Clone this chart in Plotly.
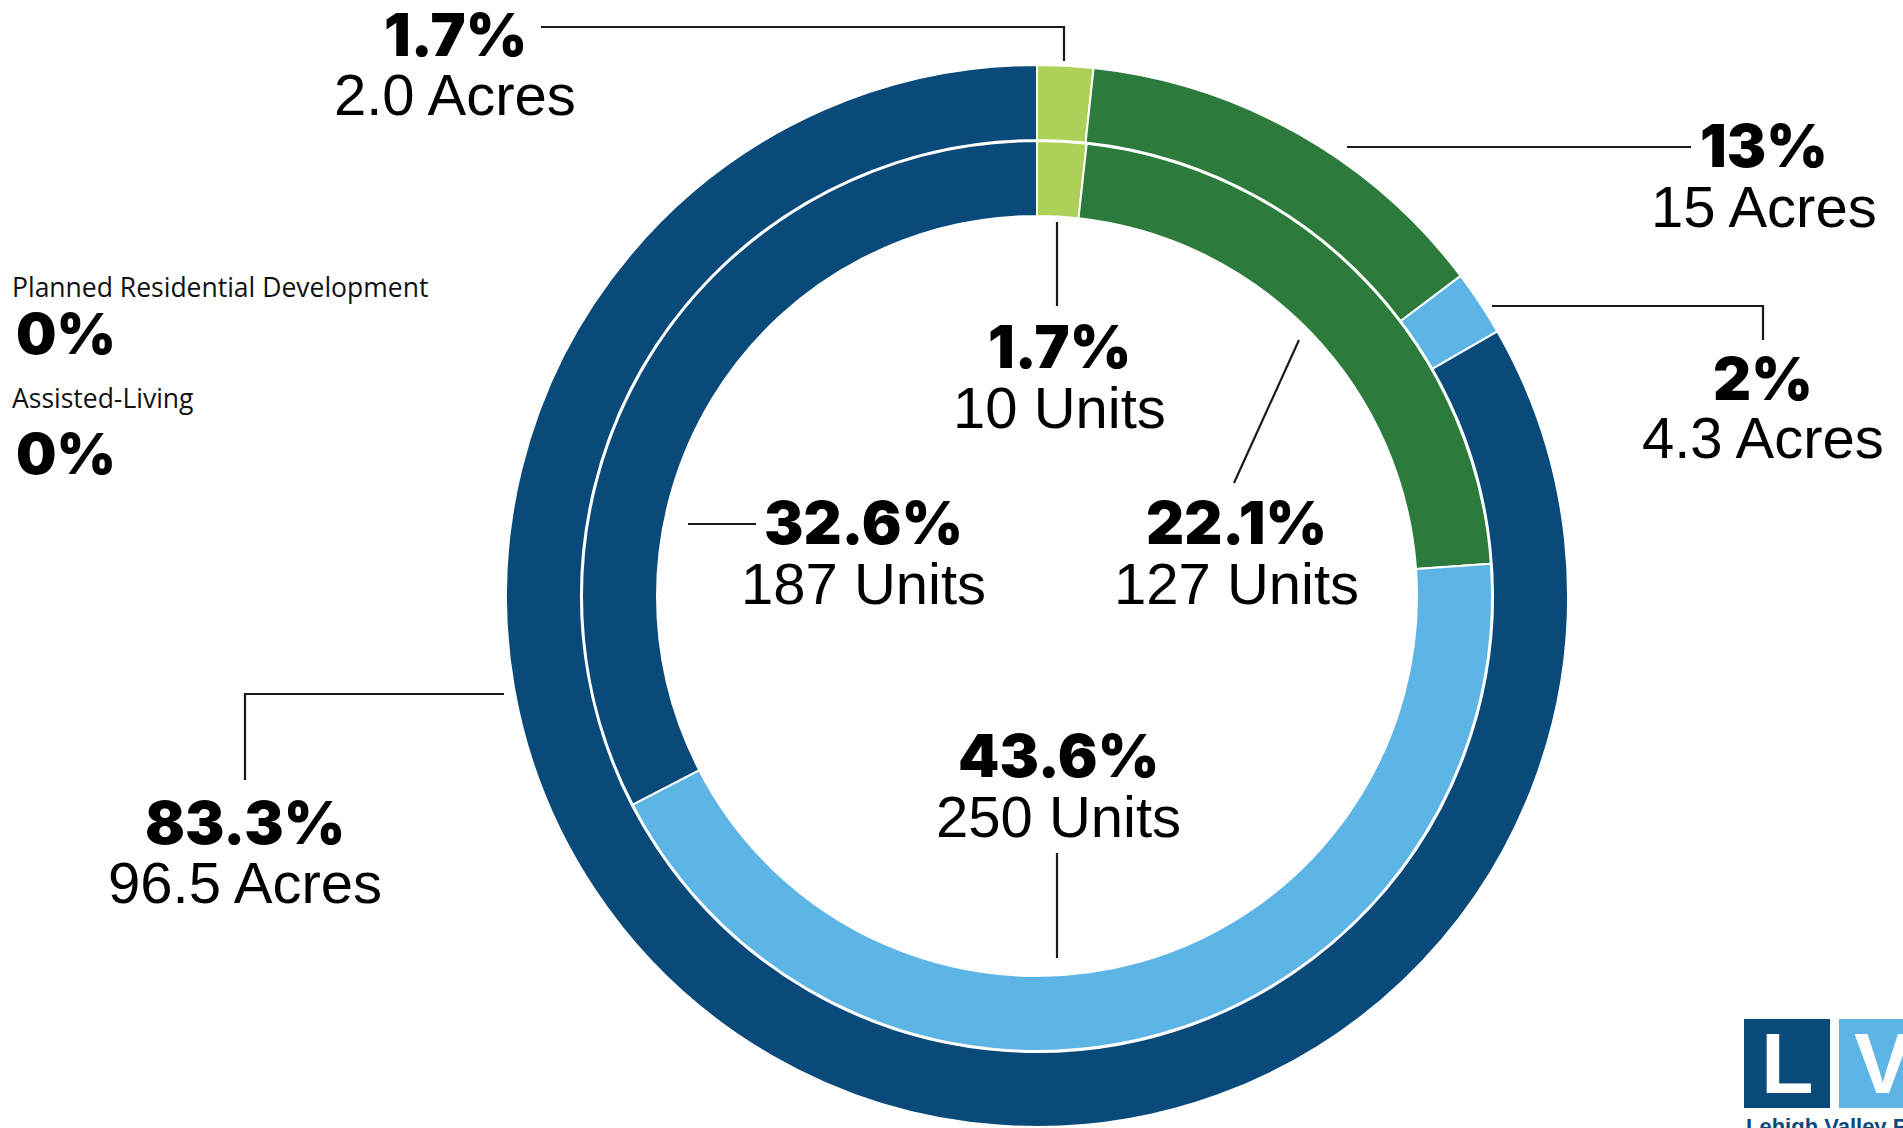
import plotly.graph_objects as go

W, H = 1903, 1128

# ---------------- data ----------------
categories = ["Two-Family", "Townhouse", "Multifamily", "Single-Family Detached"]
colors = ["#ADD158", "#2C7A3C", "#5DB5E5", "#0A4A7A"]

acre_share = [1.7, 13, 2, 83.3]                 # outer ring (% of acres)
acre_share_labels = ["1.7%", "13%", "2%", "83.3%"]
acres_labels = ["2.0 Acres", "15 Acres", "4.3 Acres", "96.5 Acres"]

units = [10, 127, 250, 187]                      # inner ring (units)
unit_share_labels = ["1.7%", "22.1%", "43.6%", "32.6%"]
units_labels = [f"{u} Units" for u in units]

other_types = ["Planned Residential Development", "Assisted-Living"]
other_share = ["0%", "0%"]

# ---------------- geometry (pixels) ----------------
CX, CY = 1037, 596
R_OUT, R_MID, R_IN = 531, 456, 380


def dom(r):
    return dict(x=[(CX - r) / W, (CX + r) / W],
                y=[(H - CY - r) / H, (H - CY + r) / H])


fig = go.Figure()
fig.add_trace(go.Pie(
    values=acre_share, labels=categories, sort=False, direction="clockwise",
    rotation=0, hole=R_MID / R_OUT, domain=dom(R_OUT),
    marker=dict(colors=colors, line=dict(color="white", width=2)),
    textinfo="none", showlegend=False, name="Acres",
    hovertemplate="%{label}<br>%{value}% of acres<extra></extra>"))
fig.add_trace(go.Pie(
    values=units, labels=categories, sort=False, direction="clockwise",
    rotation=0, hole=R_IN / (R_MID - 1), domain=dom(R_MID - 1),
    marker=dict(colors=colors, line=dict(color="white", width=2)),
    textinfo="none", showlegend=False, name="Units",
    hovertemplate="%{label}<br>%{value} units<extra></extra>"))

BOLD = "Inter, 'Liberation Sans', Arial, sans-serif"
REG = "'Liberation Sans', Arial, sans-serif"
SMALL = "'Open Sans', 'Noto Sans', sans-serif"


def txt(px, py, text, size, family, weight=400, xanchor="center",
        yanchor="middle", color="#000000"):
    fig.add_annotation(x=px / W, y=1 - py / H, xref="paper", yref="paper",
                       text=text, showarrow=False, xanchor=xanchor,
                       yanchor=yanchor, borderpad=0,
                       font=dict(size=size, family=family, weight=weight,
                                 color=color))


# label positions (pixel centres of the two lines)
outer_pos = [(455, 34, 94), (1764, 146, 206), (1763, 378, 437), (245, 822, 882)]
inner_pos = [(1059, 346, 408), (1236, 522, 583), (1058, 755, 816), (863, 522, 583)]

for i in range(4):
    x, y1, y2 = outer_pos[i]
    txt(x, y1, acre_share_labels[i], 59, BOLD, 900)
    txt(x, y2, acres_labels[i], 58, REG, 400)
    x, y1, y2 = inner_pos[i]
    txt(x, y1, unit_share_labels[i], 59, BOLD, 900)
    txt(x, y2, units_labels[i], 58, REG, 400)

# other (zero-share) types on the left
other_pos = [(287, 333), (398, 453)]
for (y1, y2), name, share in zip(other_pos, other_types, other_share):
    txt(11, y1, name, 26.5, SMALL, 400, xanchor="left", color="#111111")
    txt(15, y2, share, 57, BOLD, 900, xanchor="left")

# leader lines
leaders = [
    [(541, 27), (1064, 27), (1064, 61)],
    [(1347, 147), (1691, 147)],
    [(1492, 306), (1763, 306), (1763, 340)],
    [(1057, 222), (1057, 306)],
    [(1299, 340), (1234, 483)],
    [(688, 524), (756, 524)],
    [(1057, 853), (1057, 958)],
    [(504, 694), (245, 694), (245, 780)],
]
for pts in leaders:
    path = "M " + " L ".join(f"{x / W:.6f},{1 - y / H:.6f}" for x, y in pts)
    fig.add_shape(type="path", path=path, xref="paper", yref="paper",
                  line=dict(color="#1a1a1a", width=2.2))

# logo (partially cut off at bottom right)
fig.add_shape(type="rect", xref="paper", yref="paper",
              x0=1744 / W, x1=1830 / W, y0=1 - 1108 / H, y1=1 - 1019 / H,
              fillcolor="#0A4A7A", line=dict(width=0))
fig.add_shape(type="rect", xref="paper", yref="paper",
              x0=1839 / W, x1=1930 / W, y0=1 - 1108 / H, y1=1 - 1019 / H,
              fillcolor="#5DB5E5", line=dict(width=0))
txt(1787, 1063, "L", 86, REG, 700, color="white")
txt(1853, 1063, "V", 86, REG, 700, xanchor="left", color="white")
txt(1745, 1113, "Lehigh Valley Planning Commission", 22, REG, 700,
    xanchor="left", yanchor="top", color="#0A4A7A")

fig.update_layout(width=W, height=H, margin=dict(l=0, r=0, t=0, b=0),
                  paper_bgcolor="white", plot_bgcolor="white",
                  showlegend=False)

fig.write_html("out.html", config={"displayModeBar": False},
               post_script="document.body.style.margin='0';"
                           "document.body.style.overflow='hidden';")
